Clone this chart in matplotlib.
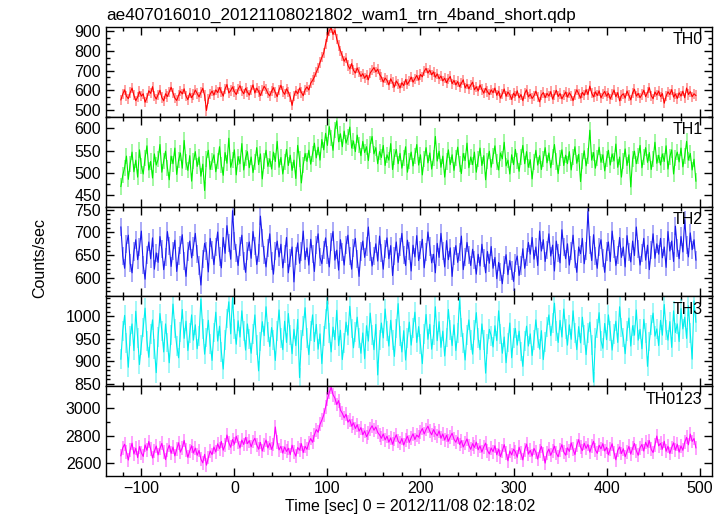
import numpy as np
import matplotlib
matplotlib.use('Agg')
import matplotlib.pyplot as plt
from matplotlib.ticker import MultipleLocator

plt.rcParams['font.family'] = ['Liberation Sans', 'DejaVu Sans']

title = 'ae407016010_20121108021802_wam1_trn_4band_short.qdp'
names = ['TH0', 'TH1', 'TH2', 'TH3', 'TH0123']
colors = ['#ff0000', '#00ee00', '#1a1aee', '#00eeee', '#ff00ff']

# time bins (sec), 2 s each, -122 .. 496
time = np.arange(-122, 497, 2)

th0 = [552, 581, 603, 570, 558, 589, 612, 575, 548, 566,
       594, 571, 583, 540, 562, 598, 585, 619, 573, 556,
       578, 601, 564, 547, 583, 569, 592, 616, 587, 561,
       549, 574, 596, 582, 608, 571, 553, 586, 563, 579,
       602, 584, 567, 590, 611, 574, 498, 556, 581, 597,
       576, 603, 589, 615, 592, 571, 608, 630, 587, 599,
       618, 594, 579, 606, 624, 598, 583, 611, 592, 576,
       603, 628, 587, 612, 595, 574, 599, 621, 606, 585,
       572, 597, 614, 589, 568, 603, 626, 594, 580, 608,
       591, 567, 524, 571, 598, 583, 612, 590, 573, 604,
       618, 602, 637, 651, 668, 693, 714, 742, 768, 790,
       836, 872, 903, 918, 884, 905, 862, 828, 801, 774,
       748, 765, 727, 709, 736, 702, 688, 714, 693, 671,
       685, 662, 678, 654, 689, 703, 716, 694, 708, 681,
       667, 642, 663, 651, 628, 659, 640, 617, 648, 633,
       612, 639, 624, 655, 631, 647, 668, 642, 659, 676,
       652, 681, 669, 697, 712, 688, 703, 679, 694, 667,
       684, 659, 673, 648, 662, 639, 657, 671, 634, 651,
       628, 645, 619, 637, 654, 612, 631, 608, 626, 642,
       603, 619, 597, 628, 605, 586, 611, 594, 579, 603,
       588, 612, 575, 596, 561, 583, 607, 570, 592, 578,
       554, 586, 571, 598, 562, 579, 548, 584, 603, 567,
       581, 559, 573, 596, 568, 542, 577, 589, 563, 585,
       571, 594, 556, 578, 601, 569, 584, 557, 575, 592,
       566, 588, 572, 548, 579, 603, 583, 561, 590, 575,
       604, 579, 622, 586, 567, 593, 574, 598, 562, 581,
       595, 571, 586, 556, 579, 602, 568, 589, 547, 574,
       583, 561, 597, 574, 552, 588, 606, 571, 585, 563,
       579, 601, 568, 589, 614, 573, 558, 592, 576, 597,
       568, 584, 535, 571, 593, 579, 604, 566, 582, 559,
       588, 571, 596, 563, 612, 579, 594, 568, 583, 574]

th1 = [470, 495, 512, 538, 486, 521, 547, 503, 529, 491,
       552, 516, 498, 534, 561, 507, 526, 489, 543, 518,
       531, 564, 502, 527, 549, 512, 485, 538, 521, 556,
       497, 529, 545, 511, 573, 524, 506, 539, 482, 527,
       548, 515, 536, 493, 520, 461, 532, 551, 508, 526,
       541, 503, 527, 559, 518, 495, 546, 522, 578, 513,
       529, 552, 496, 537, 521, 566, 507, 534, 548, 512,
       536, 501, 524, 557, 519, 543, 487, 528, 551, 515,
       532, 509, 547, 526, 571, 513, 535, 498, 524, 553,
       517, 540, 506, 529, 488, 562, 531, 478, 518, 544,
       526, 551, 520, 543, 567, 534, 558, 529, 575, 552,
       589, 562, 604, 578, 551, 596, 617, 570, 588, 559,
       594, 567, 581, 603, 556, 572, 548, 585, 562, 539,
       571, 546, 559, 528, 564, 582, 543, 557, 521, 548,
       535, 562, 517, 541, 529, 566, 508, 537, 553, 521,
       544, 511, 533, 559, 502, 528, 547, 516, 539, 564,
       518, 541, 496, 532, 557, 523, 545, 509, 534, 582,
       527, 549, 513, 538, 491, 526, 552, 519, 541, 506,
       533, 558, 521, 499, 544, 528, 567, 512, 536, 519,
       547, 502, 531, 556, 517, 539, 485, 528, 549, 513,
       538, 561, 524, 507, 545, 532, 569, 516, 529, 498,
       541, 519, 553, 527, 504, 536, 562, 521, 548, 513,
       530, 487, 524, 551, 518, 539, 508, 532, 557, 523,
       545, 512, 537, 564, 526, 499, 533, 552, 517, 540,
       521, 548, 507, 535, 559, 522, 542, 481, 527, 550,
       516, 538, 596, 529, 546, 511, 533, 558, 524, 541,
       505, 532, 551, 518, 543, 527, 565, 513, 536, 491,
       528, 554, 517, 541, 469, 532, 549, 521, 538, 562,
       512, 535, 557, 524, 546, 508, 531, 569, 522, 540,
       518, 543, 526, 561, 509, 537, 552, 498, 533, 547,
       525, 556, 514, 538, 571, 529, 544, 507, 531, 482]

th2 = [712, 648, 621, 675, 694, 632, 611, 658, 684, 640,
       667, 703, 628, 597, 651, 679, 642, 688, 619, 655,
       634, 691, 663, 618, 646, 702, 671, 625, 659, 683,
       614, 648, 672, 695, 637, 603, 658, 681, 644, 669,
       698, 652, 627, 584, 641, 676, 659, 613, 687, 662,
       629, 668, 701, 647, 622, 689, 654, 715, 676, 641,
       748, 682, 655, 627, 669, 694, 638, 612, 660, 679,
       643, 702, 671, 629, 654, 736, 688, 651, 624, 665,
       697, 638, 608, 659, 681, 646, 674, 622, 652, 689,
       611, 643, 668, 591, 649, 677, 632, 658, 703, 640,
       666, 628, 685, 652, 614, 673, 697, 645, 631, 662,
       688, 651, 624, 679, 702, 639, 661, 617, 684, 656,
       628, 672, 694, 648, 619, 665, 687, 641, 603, 658,
       681, 645, 669, 712, 658, 626, 649, 675, 637, 692,
       654, 619, 663, 688, 642, 671, 605, 648, 679, 634,
       667, 698, 651, 627, 683, 659, 615, 672, 646, 693,
       638, 661, 685, 622, 656, 701, 669, 633, 652, 611,
       676, 645, 698, 659, 624, 682, 640, 666, 603, 649,
       671, 634, 657, 692, 618, 645, 678, 651, 627, 663,
       640, 608, 652, 626, 674, 643, 611, 658, 632, 669,
       621, 645, 598, 634, 612, 587, 629, 651, 607, 638,
       616, 592, 633, 648, 605, 627, 664, 621, 645, 678,
       652, 689, 641, 668, 627, 703, 659, 684, 636, 662,
       697, 648, 672, 615, 681, 654, 633, 706, 667, 642,
       675, 628, 659, 694, 641, 612, 668, 653, 687, 631,
       659, 746, 672, 638, 695, 649, 621, 667, 684, 643,
       612, 658, 679, 636, 703, 664, 627, 651, 689, 645,
       668, 624, 693, 657, 635, 681, 649, 712, 663, 628,
       654, 687, 639, 672, 618, 661, 697, 643, 675, 652,
       687, 644, 668, 623, 702, 659, 681, 636, 714, 665,
       642, 691, 657, 728, 673, 646, 699, 662, 684, 639]

th3 = [905, 968, 1002, 941, 887, 956, 983, 924, 1011, 952,
       893, 937, 975, 1018, 946, 909, 961, 992, 928, 875,
       954, 1006, 968, 921, 983, 942, 897, 959, 1027, 973,
       935, 908, 966, 1015, 951, 989, 924, 962, 1003, 947,
       981, 928, 957, 1038, 972, 916, 953, 991, 939, 902,
       964, 1009, 945, 978, 921, 883, 947, 995, 1032, 961,
       1041, 972, 938, 990, 954, 1012, 967, 925, 983, 949,
       918, 961, 1003, 936, 879, 944, 988, 957, 1021, 966,
       933, 975, 948, 902, 967, 1014, 951, 926, 989, 942,
       1006, 958, 917, 971, 935, 993, 864, 948, 979, 1019,
       952, 915, 968, 1003, 944, 982, 927, 961, 895, 956,
       994, 1034, 962, 921, 976, 948, 1013, 935, 969, 904,
       941, 987, 958, 1022, 973, 930, 966, 998, 951, 918,
       963, 906, 979, 945, 1007, 959, 926, 982, 870, 947,
       985, 952, 1016, 968, 934, 991, 947, 911, 973, 1028,
       956, 921, 968, 903, 952, 987, 936, 974, 1009, 942,
       977, 938, 895, 961, 1004, 949, 982, 927, 958, 1021,
       946, 988, 931, 967, 912, 953, 1015, 969, 935, 981,
       924, 962, 1037, 975, 941, 903, 959, 992, 948, 916,
       969, 1008, 951, 926, 983, 947, 874, 938, 971, 957,
       932, 979, 946, 1012, 961, 918, 954, 897, 942, 985,
       908, 951, 973, 936, 967, 922, 889, 945, 978, 934,
       961, 913, 948, 992, 952, 927, 968, 904, 943, 976,
       1003, 957, 985, 1029, 968, 942, 991, 954, 1016, 972,
       936, 981, 949, 1012, 963, 926, 977, 941, 998, 958,
       915, 962, 987, 937, 854, 951, 973, 1008, 946, 929,
       984, 948, 1003, 967, 925, 961, 989, 942, 1021, 975,
       953, 917, 968, 996, 934, 979, 958, 1014, 947, 971,
       928, 993, 962, 889, 944, 981, 1007, 956, 972, 935,
       991, 958, 1026, 969, 947, 988, 931, 1012, 964, 983,
       944, 1017, 972, 998, 951, 1023, 962, 905, 1034, 987]

th0123 = [2655, 2712, 2738, 2681, 2624, 2697, 2745, 2668, 2709, 2642,
          2721, 2676, 2650, 2733, 2694, 2758, 2702, 2639, 2687, 2725,
          2661, 2708, 2744, 2685, 2627, 2696, 2731, 2672, 2718, 2654,
          2703, 2749, 2681, 2712, 2765, 2698, 2643, 2689, 2727, 2674,
          2710, 2658, 2693, 2631, 2604, 2665, 2587, 2642, 2689, 2663,
          2718, 2682, 2741, 2706, 2758, 2695, 2732, 2804, 2749, 2716,
          2772, 2738, 2795, 2753, 2711, 2768, 2736, 2787, 2742, 2764,
          2719, 2758, 2781, 2734, 2702, 2751, 2689, 2732, 2768, 2711,
          2745, 2701, 2736, 2862, 2754, 2697, 2723, 2674, 2718, 2686,
          2709, 2663, 2731, 2684, 2652, 2714, 2695, 2742, 2678, 2723,
          2701, 2748, 2779, 2752, 2806, 2843, 2824, 2881, 2912, 2948,
          3006, 3064, 3112, 3148, 3095, 3071, 3024, 3052, 2983, 2961,
          2928, 2954, 2897, 2915, 2868, 2892, 2851, 2879, 2832, 2858,
          2806, 2834, 2792, 2817, 2848, 2871, 2839, 2862, 2823, 2805,
          2781, 2812, 2769, 2796, 2752, 2784, 2738, 2775, 2806, 2761,
          2744, 2779, 2732, 2768, 2796, 2751, 2785, 2813, 2772, 2804,
          2789, 2826, 2851, 2812, 2844, 2868, 2831, 2806, 2843, 2817,
          2799, 2834, 2781, 2812, 2768, 2803, 2759, 2791, 2817, 2774,
          2752, 2789, 2736, 2764, 2718, 2747, 2776, 2729, 2701, 2742,
          2715, 2753, 2698, 2726, 2681, 2719, 2746, 2692, 2668, 2711,
          2684, 2727, 2662, 2703, 2648, 2691, 2735, 2676, 2619, 2689,
          2661, 2702, 2683, 2644, 2716, 2672, 2625, 2698, 2739, 2667,
          2694, 2652, 2708, 2681, 2631, 2689, 2722, 2665, 2602, 2676,
          2703, 2658, 2691, 2724, 2673, 2647, 2698, 2735, 2682, 2659,
          2712, 2686, 2748, 2701, 2663, 2729, 2771, 2718, 2692, 2745,
          2708, 2736, 2681, 2723, 2759, 2697, 2672, 2731, 2704, 2742,
          2689, 2716, 2662, 2704, 2741, 2678, 2626, 2693, 2719, 2671,
          2705, 2648, 2684, 2722, 2667, 2709, 2743, 2691, 2658, 2713,
          2736, 2689, 2752, 2718, 2764, 2701, 2678, 2733, 2797, 2726,
          2744, 2702, 2759, 2687, 2723, 2671, 2714, 2748, 2695, 2738,
          2681, 2726, 2694, 2752, 2787, 2734, 2811, 2758, 2779, 2712]

series = [th0, th1, th2, th3, th0123]
errs = [26, 18, 20, 22, 50]  # typical 1-sigma error per bin

ylims = [(466, 922), (425, 626), (559, 757), (845, 1044), (2509, 3156)]
majors = [100, 50, 50, 50, 200]
minors = [100 / 3, 25, 10, 10, 100]

fig = plt.figure(figsize=(7.25, 5.16), dpi=100)
left, width = 106 / 725, (711.7 - 106) / 725
ph = 89.8 / 516
bottom0 = 1 - 476 / 516

for k in range(5):
    ax = fig.add_axes([left, bottom0 + (4 - k) * ph, width, ph])
    y = np.array(series[k])
    ax.errorbar(time, y, yerr=errs[k], fmt='none', ecolor=colors[k],
                alpha=0.4, elinewidth=1.3)
    ax.plot(time, y, color=colors[k], lw=0.8)
    ax.set_xlim(-138, 513)
    ax.set_ylim(*ylims[k])
    ax.yaxis.set_major_locator(MultipleLocator(majors[k]))
    ax.yaxis.set_minor_locator(MultipleLocator(minors[k]))
    ax.xaxis.set_major_locator(MultipleLocator(100))
    ax.xaxis.set_minor_locator(MultipleLocator(20))
    ax.tick_params(which='both', direction='in', top=True, right=True,
                   labelsize=11.5, width=1.0)
    ax.tick_params(which='major', length=6)
    ax.tick_params(which='minor', length=3)
    for s in ax.spines.values():
        s.set_linewidth(1.0)
    if k < 4:
        ax.tick_params(labelbottom=False)
    ax.text(0.985, 0.94, names[k], transform=ax.transAxes, ha='right',
            va='top', fontsize=11.5)
    if k == 0:
        ax.text(0.0, 1.05, title, transform=ax.transAxes, ha='left',
                va='bottom', fontsize=12.3)

fig.text(40 / 725, 1 - 258 / 516, 'Counts/sec', rotation=90, ha='center',
         va='center', fontsize=11.5)
fig.text(410 / 725, 1 - 507 / 516, 'Time [sec] 0 = 2012/11/08 02:18:02',
         ha='center', va='center', fontsize=11.5)

plt.savefig('out.png', dpi=100)
